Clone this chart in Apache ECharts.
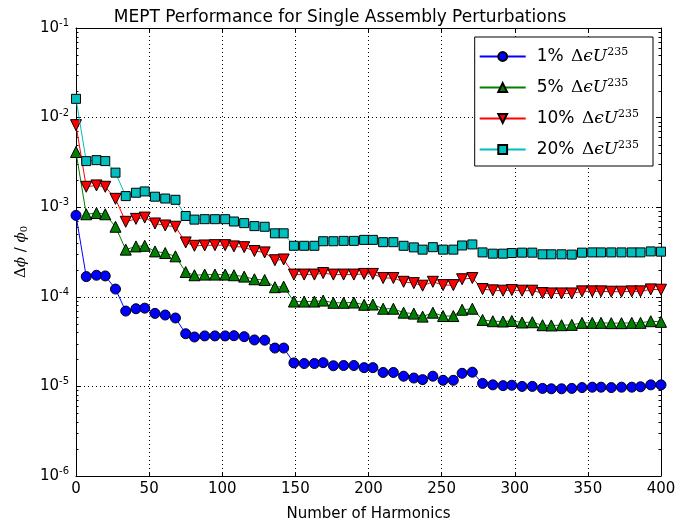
<!DOCTYPE html>
<html><head><meta charset="utf-8">
<script src="https://cdn.jsdelivr.net/npm/echarts@6/dist/echarts.min.js"></script>
<style>html,body{margin:0;padding:0;background:#fff}#c{width:680px;height:527px}</style>
</head><body><div id="c"></div>
<script>
const harmonics = [0,7,14,20,27,34,41,47,54,61,68,75,81,88,95,102,108,115,122,129,136,142,149,156,163,169,176,183,190,197,203,210,217,224,231,237,244,251,258,264,271,278,285,292,298,305,312,319,325,332,339,346,353,359,366,373,380,386,393,400];
const pert1 = [8.1e-4,1.68e-4,1.74e-4,1.71e-4,1.22e-4,6.93e-5,7.36e-5,7.47e-5,6.53e-5,6.26e-5,5.80e-5,3.87e-5,3.56e-5,3.66e-5,3.66e-5,3.66e-5,3.68e-5,3.59e-5,3.30e-5,3.28e-5,2.68e-5,2.68e-5,1.83e-5,1.80e-5,1.80e-5,1.84e-5,1.70e-5,1.71e-5,1.71e-5,1.62e-5,1.62e-5,1.43e-5,1.43e-5,1.30e-5,1.24e-5,1.19e-5,1.30e-5,1.17e-5,1.17e-5,1.40e-5,1.44e-5,1.08e-5,1.04e-5,1.02e-5,1.03e-5,1.00e-5,1.00e-5,9.5e-6,9.4e-6,9.4e-6,9.5e-6,9.7e-6,9.8e-6,9.8e-6,9.7e-6,9.8e-6,9.8e-6,9.9e-6,1.04e-5,1.04e-5];
const pert5 = [4.13e-3,8.34e-4,8.61e-4,8.34e-4,6.05e-4,3.36e-4,3.65e-4,3.71e-4,3.21e-4,3.08e-4,2.83e-4,1.89e-4,1.74e-4,1.77e-4,1.77e-4,1.77e-4,1.74e-4,1.68e-4,1.57e-4,1.54e-4,1.28e-4,1.30e-4,8.85e-5,8.85e-5,8.85e-5,9.08e-5,8.57e-5,8.57e-5,8.63e-5,8.14e-5,8.2e-5,7.36e-5,7.36e-5,6.65e-5,6.49e-5,6.01e-5,6.65e-5,6.10e-5,6.10e-5,7.17e-5,7.36e-5,5.52e-5,5.34e-5,5.30e-5,5.38e-5,5.17e-5,5.2e-5,4.82e-5,4.79e-5,4.82e-5,4.86e-5,5.12e-5,5.12e-5,5.12e-5,5.08e-5,5.08e-5,5.12e-5,5.12e-5,5.34e-5,5.25e-5];
const pert10 = [8.24e-3,1.69e-3,1.75e-3,1.69e-3,1.24e-3,6.87e-4,7.41e-4,7.66e-4,6.58e-4,6.25e-4,6.05e-4,4.04e-4,3.71e-4,3.74e-4,3.77e-4,3.77e-4,3.65e-4,3.58e-4,3.24e-4,3.13e-4,2.56e-4,2.61e-4,1.77e-4,1.77e-4,1.77e-4,1.84e-4,1.77e-4,1.77e-4,1.77e-4,1.80e-4,1.80e-4,1.62e-4,1.62e-4,1.47e-4,1.42e-4,1.33e-4,1.47e-4,1.35e-4,1.35e-4,1.57e-4,1.62e-4,1.22e-4,1.18e-4,1.17e-4,1.19e-4,1.17e-4,1.17e-4,1.10e-4,1.09e-4,1.09e-4,1.09e-4,1.15e-4,1.15e-4,1.15e-4,1.14e-4,1.14e-4,1.15e-4,1.15e-4,1.21e-4,1.20e-4];
const pert20 = [1.62e-2,3.27e-3,3.35e-3,3.27e-3,2.43e-3,1.33e-3,1.45e-3,1.50e-3,1.31e-3,1.25e-3,1.21e-3,7.98e-4,7.27e-4,7.35e-4,7.35e-4,7.35e-4,6.92e-4,6.64e-4,6.15e-4,6.05e-4,5.11e-4,5.11e-4,3.71e-4,3.71e-4,3.71e-4,4.17e-4,4.17e-4,4.21e-4,4.21e-4,4.32e-4,4.32e-4,4.07e-4,4.07e-4,3.71e-4,3.56e-4,3.36e-4,3.58e-4,3.36e-4,3.36e-4,3.74e-4,3.84e-4,3.13e-4,3.03e-4,3.03e-4,3.08e-4,3.11e-4,3.11e-4,2.98e-4,2.98e-4,2.98e-4,2.96e-4,3.11e-4,3.13e-4,3.13e-4,3.13e-4,3.13e-4,3.13e-4,3.13e-4,3.21e-4,3.19e-4];
const seriesLabels = ['1%','5%','10%','20%'];
const yMinorTicks = [];
[1e-6,1e-5,1e-4,1e-3,1e-2].forEach(d=>{for(let k=2;k<=9;k++) yMinorTicks.push(k*d);});

const FONT = 'DejaVu Sans';
const chart = echarts.init(document.getElementById('c'), null, {renderer:'canvas'});
const pair = ys => harmonics.map((x,i)=>[x, ys[i]]);
const colors = ['#0000ff','#008000','#ff0000','#00bfbf'];
const symbols = ['circle','triangle','triangle','rect'];
const rotates = [0,0,180,0];
const sizes = [10,11,11,9];
const datas = [pert1,pert5,pert10,pert20];

const series = datas.map((d,k)=>({
  name: seriesLabels[k], type:'line', data: pair(d), xAxisIndex:0, yAxisIndex:0,
  symbol: symbols[k], symbolSize: sizes[k], symbolRotate: rotates[k], showAllSymbol:true,
  lineStyle:{color:colors[k], width:1},
  itemStyle:{color:colors[k], borderColor:'#000', borderWidth:1},
  emphasis:{disabled:true}, animation:false, z: 3+k
}));
series.push({
  type:'custom', xAxisIndex:0, yAxisIndex:0, silent:true, animation:false, z:1,
  data: yMinorTicks.map(v=>[0,v]),
  renderItem:(params, api)=>{
    const cs = params.coordSys;
    const y = Math.round(api.coord([0, api.value(1)])[1]) + 0.5;
    return {type:'group', children:[
      {type:'line', shape:{x1:cs.x, y1:y, x2:cs.x+2.5, y2:y}, style:{stroke:'#000', lineWidth:1}},
      {type:'line', shape:{x1:cs.x+cs.width, y1:y, x2:cs.x+cs.width-2.5, y2:y}, style:{stroke:'#000', lineWidth:1}}
    ]};
  }
});

const supFmt = v => { const e = Math.round(Math.log10(v)); return '{b|10}{s|' + e + '}'; };
const gridLine = {show:true, lineStyle:{color:'#000', type:[1,3], width:1, opacity:1}};

chart.setOption({
  backgroundColor:'#fff',
  animation:false,
  title:{text:'MEPT Performance for Single Assembly Perturbations', left:'center', top:4,
    textStyle:{fontFamily:FONT, fontSize:17, fontWeight:'normal', color:'#000'}},
  grid:{left:76, right:19, top:28, bottom:44, show:false},
  legend:{
    orient:'vertical', right:27, top:37, backgroundColor:'#fff', borderColor:'#000', borderWidth:1,
    padding:[10,14,8,4], itemWidth:46, itemHeight:11, itemGap:13,
    data: seriesLabels,
    formatter: n => n + ' {d|Δ}{i|ϵU}{s|235}',
    textStyle:{fontFamily:FONT, fontSize:17, color:'#000', padding:[0,0,0,6],
      rich:{ d:{fontFamily:'DejaVu Serif', fontSize:17, color:'#000', padding:[0,0,0,2]},
             i:{fontFamily:'DejaVu Serif', fontStyle:'italic', fontSize:17, color:'#000'},
             s:{fontFamily:'DejaVu Serif', fontSize:11, color:'#000', verticalAlign:'top', padding:[0,0,8,0]} }}
  },
  xAxis:[{
    type:'value', min:0, max:400, interval:50, position:'bottom',
    name:'Number of Harmonics', nameLocation:'middle', nameGap:31,
    nameTextStyle:{fontFamily:FONT, fontSize:15, color:'#000'},
    axisLine:{show:true, onZero:false, lineStyle:{color:'#000', width:1}},
    axisTick:{show:true, inside:true, length:4, lineStyle:{color:'#000'}},
    axisLabel:{fontFamily:FONT, fontSize:15, color:'#000', margin:6},
    splitLine:gridLine, z:2
  },{
    type:'value', min:0, max:400, interval:50, position:'top',
    axisLine:{show:true, onZero:false, lineStyle:{color:'#000', width:1}},
    axisTick:{show:true, inside:true, length:4, lineStyle:{color:'#000'}},
    axisLabel:{show:false}, splitLine:{show:false}
  }],
  yAxis:[{
    type:'log', logBase:10, min:1e-6, max:1e-1, position:'left',
    name:'{d|Δ}{i|ϕ}{n| / }{i|ϕ}{u|0}', nameLocation:'middle', nameGap:46,
    nameTextStyle:{fontFamily:FONT, fontSize:15, color:'#000',
      rich:{ d:{fontFamily:'DejaVu Serif', fontSize:15, color:'#000'},
             i:{fontFamily:'DejaVu Serif', fontStyle:'italic', fontSize:15, color:'#000'},
             n:{fontFamily:'DejaVu Serif', fontSize:15, color:'#000'},
             u:{fontFamily:'DejaVu Serif', fontSize:10, color:'#000', verticalAlign:'bottom', padding:[6,0,0,0]} }},
    axisLine:{show:true, onZero:false, lineStyle:{color:'#000', width:1}},
    axisTick:{show:true, inside:true, length:4, lineStyle:{color:'#000'}},
    axisLabel:{formatter: supFmt, margin:7, color:'#000',
      rich:{ b:{fontFamily:FONT, fontSize:15, color:'#000'},
             s:{fontFamily:FONT, fontSize:10, color:'#000', verticalAlign:'top', padding:[0,0,9,0]} }},
    splitLine:gridLine, z:2
  },{
    type:'log', logBase:10, min:1e-6, max:1e-1, position:'right',
    axisLine:{show:true, onZero:false, lineStyle:{color:'#000', width:1}},
    axisTick:{show:true, inside:true, length:4, lineStyle:{color:'#000'}},
    axisLabel:{show:false}, splitLine:{show:false}
  }],
  series: series
});
</script></body></html>
